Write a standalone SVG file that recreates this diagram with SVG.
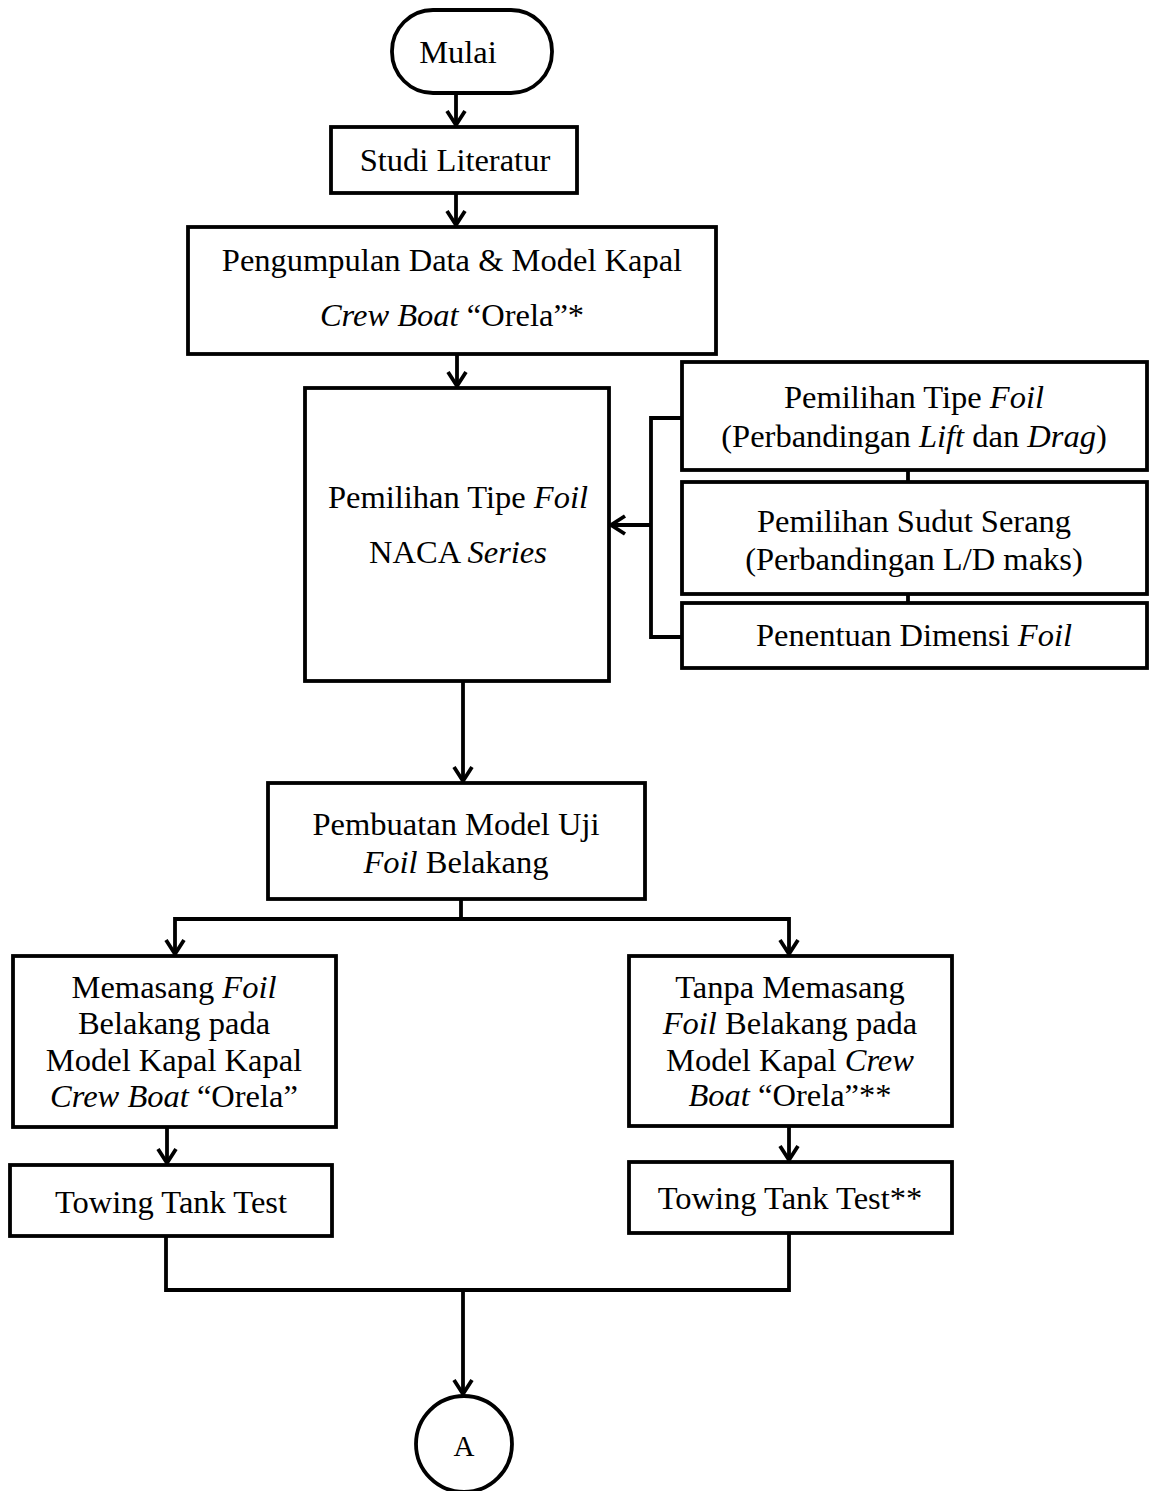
<svg xmlns="http://www.w3.org/2000/svg" width="1149" height="1491" viewBox="0 0 1149 1491">
<style>
.box{fill:#fff;stroke:#000;stroke-width:3.8}
.ln{fill:none;stroke:#000;stroke-width:3.8}
text{font-family:"Liberation Serif","Times New Roman",serif;font-size:32.5px;fill:#000;text-anchor:middle}
.i{font-style:italic}
</style>
<defs>
<marker id="ah" markerUnits="userSpaceOnUse" markerWidth="30" markerHeight="30" refX="0" refY="0" orient="auto" overflow="visible">
<path d="M-14,-9 L0,0 L-14,9" fill="none" stroke="#000" stroke-width="3.8" stroke-linejoin="miter"/>
</marker>
</defs>
<rect width="1149" height="1491" fill="#fff"/>
<g id="connectors">
<path class="ln" d="M456,93 V125" marker-end="url(#ah)"/>
<path class="ln" d="M456,193 V225" marker-end="url(#ah)"/>
<path class="ln" d="M457,354 V386" marker-end="url(#ah)"/>
<path class="ln" d="M908,470 V482"/>
<path class="ln" d="M908,594 V603"/>
<path class="ln" d="M682,418 H651 V637 H682"/>
<path class="ln" d="M651,525 H611" marker-end="url(#ah)"/>
<path class="ln" d="M463,681 V781" marker-end="url(#ah)"/>
<path class="ln" d="M461,899 V919"/>
<path class="ln" d="M461,919 H175 V954" marker-end="url(#ah)"/>
<path class="ln" d="M461,919 H789 V954" marker-end="url(#ah)"/>
<path class="ln" d="M167,1127 V1163" marker-end="url(#ah)"/>
<path class="ln" d="M789,1126 V1160" marker-end="url(#ah)"/>
<path class="ln" d="M166,1236 V1290 H789 V1233"/>
<path class="ln" d="M463,1290 V1394" marker-end="url(#ah)"/>
</g>
<g id="mulai">
<rect class="box" x="392" y="10" width="160" height="83" rx="41"/>
<text x="458" y="63">Mulai</text>
</g>
<g id="studi">
<rect class="box" x="331" y="127" width="246" height="66"/>
<text x="455" y="171">Studi Literatur</text>
</g>
<g id="pengumpulan">
<rect class="box" x="188" y="227" width="528" height="127"/>
<text x="452" y="271">Pengumpulan Data &amp; Model Kapal</text>
<text x="452" y="326"><tspan class="i">Crew Boat</tspan> “Orela”*</text>
</g>
<g id="naca">
<rect class="box" x="305" y="388" width="304" height="293"/>
<text x="458" y="508">Pemilihan Tipe <tspan class="i">Foil</tspan></text>
<text x="458" y="563">NACA <tspan class="i">Series</tspan></text>
</g>
<g id="tipe-foil">
<rect class="box" x="682" y="362" width="465" height="108"/>
<text x="914" y="408">Pemilihan Tipe <tspan class="i">Foil</tspan></text>
<text x="914" y="447">(Perbandingan <tspan class="i">Lift</tspan> dan <tspan class="i">Drag</tspan>)</text>
</g>
<g id="sudut-serang">
<rect class="box" x="682" y="482" width="465" height="112"/>
<text x="914" y="532">Pemilihan Sudut Serang</text>
<text x="914" y="570">(Perbandingan L/D maks)</text>
</g>
<g id="dimensi">
<rect class="box" x="682" y="603" width="465" height="65"/>
<text x="914" y="646">Penentuan Dimensi <tspan class="i">Foil</tspan></text>
</g>
<g id="pembuatan">
<rect class="box" x="268" y="783" width="377" height="116"/>
<text x="456" y="835">Pembuatan Model Uji</text>
<text x="456" y="873"><tspan class="i">Foil</tspan> Belakang</text>
</g>
<g id="memasang">
<rect class="box" x="13" y="956" width="323" height="171"/>
<text x="174" y="998">Memasang <tspan class="i">Foil</tspan></text>
<text x="174" y="1034">Belakang pada</text>
<text x="174" y="1071">Model Kapal Kapal</text>
<text x="174" y="1107"><tspan class="i">Crew Boat</tspan> “Orela”</text>
</g>
<g id="towing1">
<rect class="box" x="10" y="1165" width="322" height="71"/>
<text x="171" y="1213">Towing Tank Test</text>
</g>
<g id="tanpa">
<rect class="box" x="629" y="956" width="323" height="170"/>
<text x="790" y="998">Tanpa Memasang</text>
<text x="790" y="1034"><tspan class="i">Foil</tspan> Belakang pada</text>
<text x="790" y="1071">Model Kapal <tspan class="i">Crew</tspan></text>
<text x="790" y="1106"><tspan class="i">Boat</tspan> “Orela”**</text>
</g>
<g id="towing2">
<rect class="box" x="629" y="1162" width="323" height="71"/>
<text x="790" y="1209">Towing Tank Test**</text>
</g>
<g id="connector-a">
<circle class="box" cx="464" cy="1444" r="48"/>
<text x="464" y="1456" style="font-size:29px">A</text>
</g>
</svg>
